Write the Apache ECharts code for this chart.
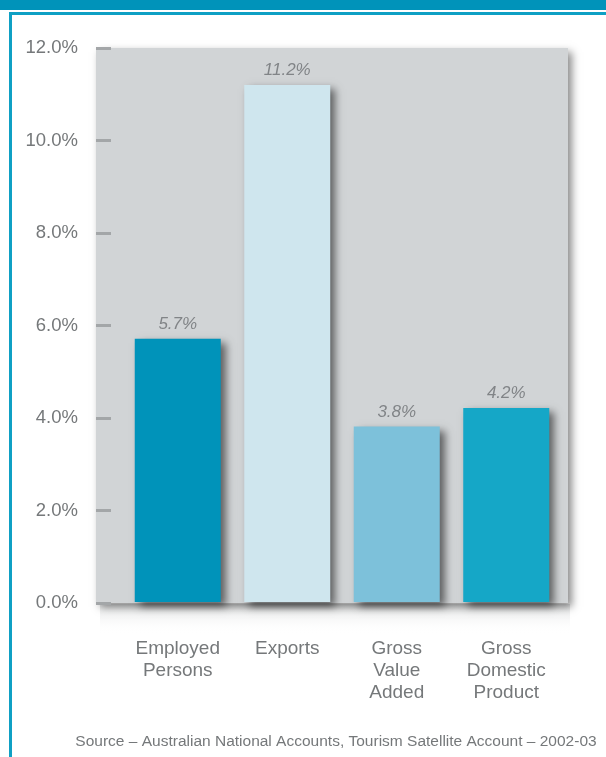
<!DOCTYPE html>
<html>
<head>
<meta charset="utf-8">
<script src="https://cdn.jsdelivr.net/npm/echarts@6/dist/echarts.min.js"></script>
<style>
  html, body { margin: 0; padding: 0; background: #ffffff; }
  #chart { position: absolute; left: 0; top: 0; width: 606px; height: 757px; }
</style>
</head>
<body>
<div id="chart"></div>
<script>
// Tourism share of the national economy, 2002-03
const categories = ['Employed\nPersons', 'Exports', 'Gross\nValue\nAdded', 'Gross\nDomestic\nProduct'];
const shareValues = [5.7, 11.2, 3.8, 4.2];
const barColors = ['#0093BA', '#CFE6EE', '#7DC1DA', '#15A7C7'];
const yTicks = [0, 2, 4, 6, 8, 10, 12];
const sourceNote = 'Source \u2013 Australian National Accounts, Tourism Satellite Account \u2013 2002-03';

const FONT = '"Liberation Sans", Arial, sans-serif';
const TEXT_GREY = '#75787a';

const chart = echarts.init(document.getElementById('chart'), null, { renderer: 'canvas' });

chart.setOption({
  backgroundColor: '#ffffff',
  animation: false,
  graphic: [
    // teal header band and page frame
    { type: 'rect', shape: { x: 0, y: 0, width: 606, height: 10 }, style: { fill: '#0093BA' }, silent: true },
    { type: 'rect', shape: { x: 9, y: 12, width: 597, height: 3 }, style: { fill: '#0FA0C4' }, silent: true },
    { type: 'rect', shape: { x: 9, y: 12, width: 3, height: 745 }, style: { fill: '#0FA0C4' }, silent: true },
    // soft fade below the panel
    { type: 'rect', shape: { x: 100, y: 604, width: 470, height: 30 },
      style: { fill: new echarts.graphic.LinearGradient(0, 0, 0, 1, [
        { offset: 0, color: 'rgba(120,125,128,0.22)' },
        { offset: 1, color: 'rgba(255,255,255,0)' }
      ]) }, silent: true, z: -1 }
  ],
  title: {
    text: sourceNote,
    left: 331,
    textAlign: 'center',
    top: 729,
    textStyle: { fontFamily: FONT, fontSize: 15.5, fontWeight: 'normal', color: TEXT_GREY }
  },
  grid: [
    // grey panel carrying the percentage scale
    { left: 96, right: 38, top: 48, bottom: 154, show: true, backgroundColor: '#D1D4D6',
      borderWidth: 0, shadowColor: 'rgba(0,0,0,0.45)', shadowBlur: 8, shadowOffsetX: 4, shadowOffsetY: 4 },
    // bars
    { left: 123, right: 45, top: 48, bottom: 155 }
  ],
  xAxis: [
    { type: 'category', gridIndex: 0, data: categories, show: false },
    {
      type: 'category', gridIndex: 1, data: categories,
      axisLine: { show: false }, axisTick: { show: false },
      axisLabel: { interval: 0, hideOverlap: false, margin: 36, fontFamily: FONT, fontSize: 19,
        color: TEXT_GREY, lineHeight: 22 }
    }
  ],
  yAxis: [
    {
      type: 'value', gridIndex: 0, min: 0, max: 12, interval: 2,
      axisLine: { show: false },
      axisTick: { show: true, inside: true, length: 15, lineStyle: { color: '#A3A6A8', width: 3 } },
      splitLine: { show: false },
      axisLabel: {
        margin: 18, fontFamily: FONT, fontSize: 18.5, color: TEXT_GREY,
        formatter: v => yTicks.includes(v) ? v.toFixed(1) + '%' : ''
      }
    },
    { type: 'value', gridIndex: 1, min: 0, max: 12, interval: 2, show: false, splitLine: { show: false } }
  ],
  series: [{
    type: 'bar',
    xAxisIndex: 1, yAxisIndex: 1,
    barWidth: 86,
    data: shareValues.map((v, i) => ({ value: v, itemStyle: { color: barColors[i] } })),
    itemStyle: { shadowColor: 'rgba(0,0,0,0.55)', shadowBlur: 8, shadowOffsetX: 5, shadowOffsetY: 4 },
    label: {
      show: true, position: 'top', distance: 6,
      fontFamily: FONT, fontSize: 17, fontStyle: 'italic', color: '#818487',
      formatter: p => p.value.toFixed(1) + '%'
    }
  }]
});
</script>
</body>
</html>
